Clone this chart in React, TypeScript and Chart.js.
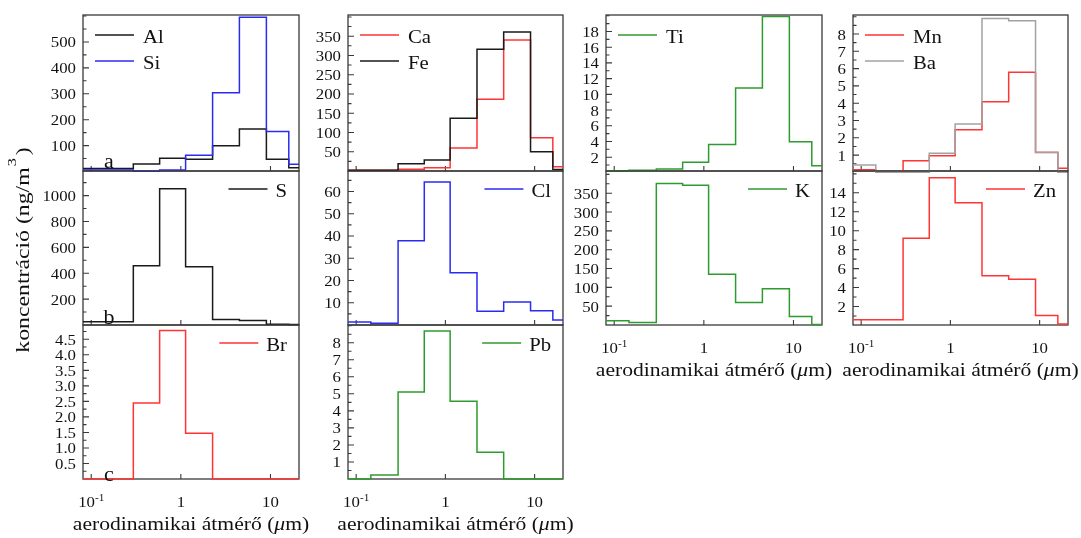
import React, { useEffect, useRef } from 'react';
import { Chart, registerables } from 'chart.js';

Chart.register(...registerables);

const W = 1081;
const H = 538;
const FONT = '"Liberation Serif", "Times New Roman", Times, serif';

// ---- data ----
const binEdges = [0.073, 0.146, 0.295, 0.58, 1.13, 2.26, 4.5, 9.0, 16.0, 32.0];
const xMin = 0.081;
const xMax = 20.8;
const xTickValues = [0.1, 1, 10];

const alValues = [12, 12, 29, 51, 47, 99, 164, 47, 15];
const siValues = [6, 6, 1, 6, 63, 304, 595, 154, 28];
const sValues = [26, 26, 457, 1053, 450, 42, 34, 5, 3];
const brValues = [0, 0, 2.45, 4.78, 1.47, 0, 0, 0, 0];
const caValues = [2, 2, 4.4, 8.6, 60, 186, 340, 86, 11];
const feValues = [2, 2, 19, 28.5, 137, 316, 361, 50, 4];
const clValues = [1.3, 0.8, 37.9, 64.3, 23.5, 6.2, 10.3, 6.4, 2.2];
const pbValues = [0, 0.24, 5.1, 8.69, 4.57, 1.57, 0, 0, 0];
const tiValues = [0.24, 0.33, 0.5, 1.36, 3.6, 10.8, 19.9, 3.96, 0.92];
const kValues = [11, 6.6, 376, 371, 135, 60, 96, 22.6, 1];
const mnValues = [0.15, 0, 0.67, 0.96, 2.47, 4.09, 5.79, 1.15, 0.24];
const baValues = [0.43, 0, 0, 1.11, 2.8, 8.9, 8.77, 1.17, 0];
const znValues = [0.6, 0.6, 9.2, 15.6, 12.95, 5.26, 4.88, 1.05, 0.15];

const alSiTicks = [100, 200, 300, 400, 500];
const sTicks = [200, 400, 600, 800, 1000];
const brTicks = [0.5, 1, 1.5, 2, 2.5, 3, 3.5, 4, 4.5];
const caFeTicks = [50, 100, 150, 200, 250, 300, 350];
const clTicks = [10, 20, 30, 40, 50, 60];
const pbTicks = [1, 2, 3, 4, 5, 6, 7, 8];
const tiTicks = [2, 4, 6, 8, 10, 12, 14, 16, 18];
const kTicks = [50, 100, 150, 200, 250, 300, 350];
const mnBaTicks = [1, 2, 3, 4, 5, 6, 7, 8];
const znTicks = [2, 4, 6, 8, 10, 12, 14];

// ---- styles ----
const BLACK = '#1a1a1a';
const BLUE = '#2b2bf2';
const RED = '#ff3535';
const GREEN = '#2f9a2f';
const GRAY = '#a2a2a2';
const FRAME = '#3a3a3a';
const TEXT = '#111111';

const cols: [number, number][] = [[83, 299], [348, 563], [606, 822], [853, 1068]];
const rows: [number, number][] = [[15, 171], [171, 325], [325, 479]];

type Series = { label: string; values: number[]; color: string };
type PanelSpec = {
  col: number;
  row: number;
  yMin: number;
  yMax: number;
  yTicks: number[];
  yMinor: number;
  decimals?: number;
  series: Series[];
  legend: 'left' | 'right';
  letter?: string;
  letterDy?: number;
  xLabels?: boolean;
  yTitle?: boolean;
};

const panels: PanelSpec[] = [
  { col: 0, row: 0, yMin: 2, yMax: 604, yTicks: alSiTicks, yMinor: 50,
    series: [{ label: 'Al', values: alValues, color: BLACK }, { label: 'Si', values: siValues, color: BLUE }],
    legend: 'left', letter: 'a', letterDy: -3 },
  { col: 0, row: 1, yMin: 0, yMax: 1190, yTicks: sTicks, yMinor: 100,
    series: [{ label: 'S', values: sValues, color: BLACK }],
    legend: 'right', letter: 'b', letterDy: -1, yTitle: true },
  { col: 0, row: 2, yMin: 0, yMax: 4.96, yTicks: brTicks, yMinor: 0.25, decimals: 1,
    series: [{ label: 'Br', values: brValues, color: RED }],
    legend: 'right', letter: 'c', letterDy: 2, xLabels: true },
  { col: 1, row: 0, yMin: 0, yMax: 405, yTicks: caFeTicks, yMinor: 25,
    series: [{ label: 'Ca', values: caValues, color: RED }, { label: 'Fe', values: feValues, color: BLACK }],
    legend: 'left' },
  { col: 1, row: 1, yMin: 0, yMax: 69.2, yTicks: clTicks, yMinor: 5,
    series: [{ label: 'Cl', values: clValues, color: BLUE }],
    legend: 'right' },
  { col: 1, row: 2, yMin: 0, yMax: 9.04, yTicks: pbTicks, yMinor: 0.5,
    series: [{ label: 'Pb', values: pbValues, color: GREEN }],
    legend: 'right', xLabels: true },
  { col: 2, row: 0, yMin: 0.24, yMax: 20.1, yTicks: tiTicks, yMinor: 1,
    series: [{ label: 'Ti', values: tiValues, color: GREEN }],
    legend: 'left' },
  { col: 2, row: 1, yMin: 0, yMax: 409, yTicks: kTicks, yMinor: 25,
    series: [{ label: 'K', values: kValues, color: GREEN }],
    legend: 'right', xLabels: true },
  { col: 3, row: 0, yMin: 0.08, yMax: 9.1, yTicks: mnBaTicks, yMinor: 0.5,
    series: [{ label: 'Mn', values: mnValues, color: RED }, { label: 'Ba', values: baValues, color: GRAY }],
    legend: 'left' },
  { col: 3, row: 1, yMin: 0.05, yMax: 16.3, yTicks: znTicks, yMinor: 1,
    series: [{ label: 'Zn', values: znValues, color: RED }],
    legend: 'right', xLabels: true },
];

// ---- text helpers ----
type Seg = { t: string; size: number; dy?: number; italic?: boolean; gap?: number };

function fontOf(s: Seg) {
  return `${s.italic ? 'italic ' : ''}${s.size}px ${FONT}`;
}

function drawRich(
  ctx: CanvasRenderingContext2D,
  segs: Seg[],
  x: number,
  y: number,
  align: 'left' | 'center' | 'right',
  sx: number,
  rotate = false,
  color = TEXT,
) {
  ctx.save();
  ctx.translate(x, y);
  if (rotate) ctx.rotate(-Math.PI / 2);
  ctx.fillStyle = color;
  ctx.textBaseline = 'alphabetic';
  ctx.textAlign = 'left';
  let total = 0;
  const widths = segs.map((s) => {
    ctx.font = fontOf(s);
    const w = ctx.measureText(s.t).width * sx + (s.gap ?? 0);
    total += w;
    return w;
  });
  let cx = align === 'left' ? 0 : align === 'right' ? -total : -total / 2;
  segs.forEach((s, i) => {
    ctx.font = fontOf(s);
    ctx.save();
    ctx.translate(cx + (s.gap ?? 0), s.dy ?? 0);
    ctx.scale(sx, 1);
    ctx.fillText(s.t, 0, 0);
    ctx.restore();
    cx += widths[i];
  });
  ctx.restore();
  return total;
}

function measureRich(ctx: CanvasRenderingContext2D, segs: Seg[], sx: number) {
  ctx.save();
  let total = 0;
  segs.forEach((s) => {
    ctx.font = fontOf(s);
    total += ctx.measureText(s.t).width * sx + (s.gap ?? 0);
  });
  ctx.restore();
  return total;
}

const TICK_SIZE = 15;
const TICK_SX = 1.12;
const LEG_SIZE = 18;
const LEG_SX = 1.15;

function decorPlugin(spec: PanelSpec) {
  return {
    id: 'decor',
    beforeDatasetsDraw(chart: any) {
      const ctx: CanvasRenderingContext2D = chart.ctx;
      const { left, top, right, bottom } = chart.chartArea;
      const ys = chart.scales.y;
      const xs = chart.scales.x;
      ctx.save();
      ctx.strokeStyle = FRAME;
      ctx.lineWidth = 1.3;
      ctx.strokeRect(left, top, right - left, bottom - top);
      ctx.lineWidth = 1.1;
      ctx.beginPath();
      spec.yTicks.forEach((v) => {
        const y = ys.getPixelForValue(v);
        ctx.moveTo(left, y);
        ctx.lineTo(left + 6, y);
      });
      const k0 = Math.ceil(spec.yMin / spec.yMinor);
      const k1 = Math.floor(spec.yMax / spec.yMinor);
      for (let k = k0; k <= k1; k++) {
        const v = k * spec.yMinor;
        if (v <= spec.yMin + 1e-9) continue;
        if (spec.yTicks.some((m) => Math.abs(m - v) < 1e-6)) continue;
        const y = ys.getPixelForValue(v);
        ctx.moveTo(left, y);
        ctx.lineTo(left + 3.5, y);
      }
      xTickValues.forEach((v) => {
        const x = xs.getPixelForValue(v);
        ctx.moveTo(x, bottom);
        ctx.lineTo(x, bottom - 5);
      });
      ctx.stroke();
      ctx.restore();
    },
    afterDatasetsDraw(chart: any) {
      const ctx: CanvasRenderingContext2D = chart.ctx;
      const { left, top, right, bottom } = chart.chartArea;
      const ys = chart.scales.y;
      const xs = chart.scales.x;

      // y tick labels
      spec.yTicks.forEach((v) => {
        const y = ys.getPixelForValue(v);
        const txt = spec.decimals ? v.toFixed(spec.decimals) : String(v);
        drawRich(ctx, [{ t: txt, size: TICK_SIZE }], left - 7, y + 5.5, 'right', TICK_SX);
      });

      // legend
      ctx.save();
      spec.series.forEach((s, i) => {
        let lx0: number;
        let lx1: number;
        let ly: number;
        let tx: number;
        const segs: Seg[] = [{ t: s.label, size: LEG_SIZE }];
        if (spec.legend === 'left') {
          ly = top + 20 + 26 * i;
          lx0 = left + 12;
          lx1 = left + 51;
          tx = left + 60;
        } else {
          ly = top + 18 + 26 * i;
          const w = measureRich(ctx, segs, LEG_SX);
          tx = right - 12 - w;
          lx1 = tx - 8;
          lx0 = lx1 - 39;
        }
        ctx.strokeStyle = s.color;
        ctx.lineWidth = 1.5;
        ctx.beginPath();
        ctx.moveTo(lx0, ly);
        ctx.lineTo(lx1, ly);
        ctx.stroke();
        drawRich(ctx, segs, tx, ly + 7.5, 'left', LEG_SX);
      });
      ctx.restore();

      // panel letter
      if (spec.letter) {
        drawRich(ctx, [{ t: spec.letter, size: 20 }], 109, bottom + (spec.letterDy ?? 0), 'center', 1.1);
      }

      // x labels + title
      if (spec.xLabels) {
        xTickValues.forEach((v) => {
          const x = xs.getPixelForValue(v);
          const segs: Seg[] =
            v === 0.1
              ? [{ t: '10', size: TICK_SIZE }, { t: '-1', size: 10, dy: -6 }]
              : [{ t: String(v), size: TICK_SIZE }];
          drawRich(ctx, segs, x, bottom + 28, 'center', TICK_SX);
        });
        drawRich(
          ctx,
          [
            { t: 'aerodinamikai átmérő (', size: 18 },
            { t: 'μ', size: 18, italic: true },
            { t: 'm)', size: 18 },
          ],
          (left + right) / 2,
          bottom + 51,
          'center',
          1.2,
        );
      }

      // y title
      if (spec.yTitle) {
        drawRich(
          ctx,
          [
            { t: 'koncentráció (ng/m', size: 19 },
            { t: '3', size: 13, dy: -13, gap: 1 },
            { t: ')', size: 19, gap: 3 },
          ],
          29,
          250,
          'center',
          1.25,
          true,
        );
      }
    },
  };
}

function PanelChart({ spec }: { spec: PanelSpec }) {
  const ref = useRef<HTMLCanvasElement>(null);
  useEffect(() => {
    const canvas = ref.current;
    if (!canvas) return;
    const [l, r] = cols[spec.col];
    const [t, b] = rows[spec.row];
    const chart = new Chart(canvas, {
      type: 'scatter',
      data: {
        datasets: spec.series.map((s, i) => ({
          label: s.label,
          data: binEdges.map((e, j) => ({ x: e, y: s.values[Math.min(j, s.values.length - 1)] })),
          showLine: true,
          stepped: true,
          borderColor: s.color,
          backgroundColor: s.color,
          borderWidth: 1.5,
          pointRadius: 0,
          pointHoverRadius: 0,
          fill: false,
          order: -i,
          clip: { left: 0, right: 0, top: 2, bottom: 2 },
        })),
      } as any,
      options: {
        responsive: false,
        animation: false,
        devicePixelRatio: 1,
        events: [],
        layout: { padding: { left: l, top: t, right: W - r, bottom: H - b } },
        plugins: {
          legend: { display: false },
          tooltip: { enabled: false },
          title: { display: false },
        },
        scales: {
          x: { type: 'logarithmic', min: xMin, max: xMax, display: false },
          y: { type: 'linear', min: spec.yMin, max: spec.yMax, display: false },
        },
      } as any,
      plugins: [decorPlugin(spec) as any],
    });
    return () => chart.destroy();
  }, [spec]);
  return (
    <canvas
      ref={ref}
      width={W}
      height={H}
      style={{ position: 'absolute', left: 0, top: 0, width: W, height: H }}
    />
  );
}

export default function App() {
  return (
    <div style={{ position: 'absolute', left: 0, top: 0, width: W, height: H, background: '#ffffff', overflow: 'hidden' }}>
      {panels.map((p, i) => (
        <PanelChart key={i} spec={p} />
      ))}
    </div>
  );
}
